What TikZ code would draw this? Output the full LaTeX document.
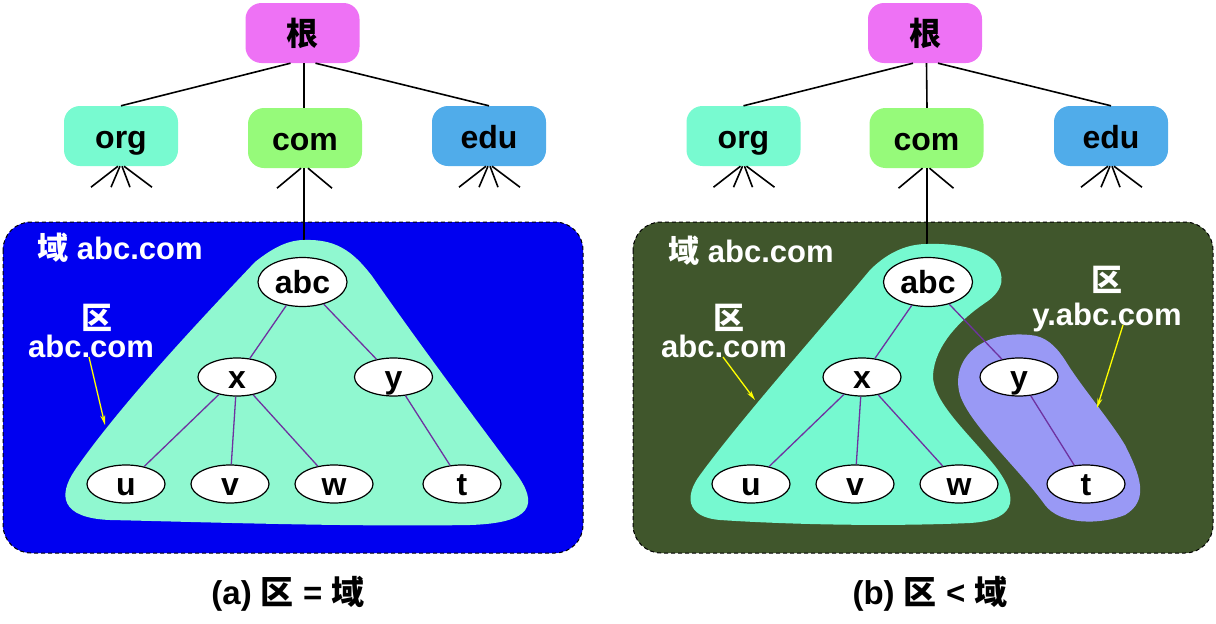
\documentclass[tikz,border=0pt]{standalone}
\usepackage{fontspec}
\setmainfont{Liberation Sans}
\newfontfamily\cjk{Noto Sans CJK SC}
\usetikzlibrary{shapes.geometric,arrows.meta}

\begin{document}
\begin{tikzpicture}[x=1pt,y=1pt,yscale=-1,xscale=1,
  tld/.style={rounded corners=16pt,minimum width=114pt,minimum height=60pt,inner sep=0pt,text height=24pt,text depth=0pt,font=\fontsize{32}{32}\selectfont\bfseries},
  host/.style={ellipse,draw=black,line width=1.2pt,fill=white,minimum width=78pt,minimum height=38pt,inner sep=0pt,text height=22pt,text depth=0pt,font=\fontsize{32}{32}\selectfont\bfseries},
  domainbox/.style={draw=black,line width=1pt,dash pattern=on 4pt off 3pt,rounded corners=28pt},
  link/.style={line width=1.6pt},
  treeedge/.style={draw={rgb,255:red,110;green,50;blue,160},line width=1.3pt},
  zonearrow/.style={draw={rgb,255:red,255;green,255;blue,0},line width=1.3pt,-{Stealth[length=10pt,width=5pt]}},
  whitelabel/.style={text=white,inner sep=0pt,font=\fontsize{31}{31}\selectfont\bfseries},
  caption/.style={inner sep=0pt,font=\fontsize{33}{33}\selectfont\bfseries}]
\useasboundingbox (0,0) rectangle (1216,624);

%domain boxes
\draw [domainbox,fill={rgb,255:red,0;green,0;blue,240}] (3,222) rectangle (583,553);
\draw [domainbox,fill={rgb,255:red,64;green,86;blue,44}] (633,222) rectangle (1213,553);

%top of the hierarchy, panel (a)
\node [tld,fill={rgb,255:red,238;green,114;blue,245}] (rootA) at (302.5,33) {{\cjk 根}};
\node [tld,fill={rgb,255:red,120;green,250;blue,208}] (orgA) at (121,136) {org};
\node [tld,fill={rgb,255:red,150;green,250;blue,122}] (comA) at (305,138) {com};
\node [tld,fill={rgb,255:red,80;green,172;blue,234}] (eduA) at (489,136) {edu};
\draw [link] ([xshift=-12pt]rootA.south) -- (orgA.north);
\draw [link] ([xshift=1.5pt]rootA.south) -- ([xshift=-1pt]comA.north);
\draw [link] ([xshift=13pt]rootA.south) -- (eduA.north);
\draw [link] ([xshift=-3pt]orgA.south) -- ++(-27,21);
\draw [link] ([xshift=-1pt]orgA.south) -- ++(-9,21);
\draw [link] ([xshift=1pt]orgA.south) -- ++(8,21);
\draw [link] ([xshift=3pt]orgA.south) -- ++(28,21);
\draw [link] ([xshift=-4pt]comA.south) -- ++(-24,20);
\draw [link] ([xshift=3pt]comA.south) -- ++(24,20);
\draw [link] ([xshift=-3pt]eduA.south) -- ++(-27,21);
\draw [link] ([xshift=-1pt]eduA.south) -- ++(-9,21);
\draw [link] ([xshift=1pt]eduA.south) -- ++(8,21);
\draw [link] ([xshift=3pt]eduA.south) -- ++(28,21);

%top of the hierarchy, panel (b)
\node [tld,fill={rgb,255:red,238;green,114;blue,245}] (rootB) at (925,33) {{\cjk 根}};
\node [tld,fill={rgb,255:red,120;green,250;blue,208}] (orgB) at (743.5,136) {org};
\node [tld,fill={rgb,255:red,150;green,250;blue,122}] (comB) at (926.5,138) {com};
\node [tld,fill={rgb,255:red,80;green,172;blue,234}] (eduB) at (1111,136) {edu};
\draw [link] ([xshift=-12pt]rootB.south) -- (orgB.north);
\draw [link] ([xshift=1.5pt]rootB.south) -- ([xshift=0.5pt]comB.north);
\draw [link] ([xshift=13pt]rootB.south) -- (eduB.north);
\draw [link] ([xshift=-3pt]orgB.south) -- ++(-27,21);
\draw [link] ([xshift=-1pt]orgB.south) -- ++(-9,21);
\draw [link] ([xshift=1pt]orgB.south) -- ++(8,21);
\draw [link] ([xshift=3pt]orgB.south) -- ++(28,21);
\draw [link] ([xshift=-4pt]comB.south) -- ++(-24,20);
\draw [link] ([xshift=3pt]comB.south) -- ++(24,20);
\draw [link] ([xshift=-3pt]eduB.south) -- ++(-27,21);
\draw [link] ([xshift=-1pt]eduB.south) -- ++(-9,21);
\draw [link] ([xshift=1pt]eduB.south) -- ++(8,21);
\draw [link] ([xshift=3pt]eduB.south) -- ++(28,21);

%zones
\coordinate (zoneAtop) at (304,240);
\coordinate (zoneBtop) at (927,244);
\draw [link] ([xshift=-1pt]comA.south) -- (zoneAtop);
\draw [link] ([xshift=0.5pt]comB.south) -- (zoneBtop);

\fill [fill={rgb,255:red,144;green,248;blue,208}] (zoneAtop) .. controls (335,239) and (352,250) .. (372,276)
  .. controls (420,345) and (480,425) .. (515,472) .. controls (540,505) and (532,523) .. (470,525)
  .. controls (350,527) and (200,522) .. (110,520) .. controls (60,518) and (58,495) .. (75,470)
  .. controls (120,405) and (200,320) .. (255,262) .. controls (275,246) and (290,240) .. (zoneAtop) -- cycle;

\fill [fill={rgb,255:red,118;green,249;blue,208}] (zoneBtop) .. controls (960,243) and (985,250) .. (995,262)
  .. controls (1005,275) and (1005,290) .. (985,303) .. controls (960,320) and (935,345) .. (933,375)
  .. controls (932,400) and (965,430) .. (990,460) .. controls (1020,495) and (1020,520) .. (970,523)
  .. controls (880,527) and (780,524) .. (720,520) .. controls (685,517) and (685,495) .. (700,475)
  .. controls (740,420) and (820,330) .. (870,270) .. controls (890,250) and (910,244) .. (zoneBtop) -- cycle;

\fill [fill={rgb,255:red,153;green,153;blue,245}] (1030,335) .. controls (980,330) and (950,360) .. (960,395)
  .. controls (970,425) and (1020,470) .. (1045,505) .. controls (1060,525) and (1100,525) .. (1125,515)
  .. controls (1150,500) and (1140,475) .. (1125,445) .. controls (1110,420) and (1080,385) .. (1065,360)
  .. controls (1055,345) and (1045,336) .. (1030,335) -- cycle;

%hosts, panel (a)
\node [host,minimum width=89pt,minimum height=49pt] (abcA) at (302.5,282) {abc};
\node [host] (xA) at (237,377) {x};
\node [host] (yA) at (393.5,377) {y};
\node [host] (uA) at (126,484) {u};
\node [host] (vA) at (230,484) {v};
\node [host] (wA) at (334,484) {w};
\node [host] (tA) at (462,484) {t};
\draw [treeedge] (abcA) -- (xA);
\draw [treeedge] (abcA) -- (yA);
\draw [treeedge] (xA) -- (uA);
\draw [treeedge] (xA) -- (vA);
\draw [treeedge] (xA) -- (wA);
\draw [treeedge] (yA) -- (tA);

%hosts, panel (b)
\node [host,minimum width=89pt,minimum height=49pt] (abcB) at (928,282) {abc};
\node [host] (xB) at (862,377) {x};
\node [host] (yB) at (1019,377) {y};
\node [host] (uB) at (751,484) {u};
\node [host] (vB) at (855,484) {v};
\node [host] (wB) at (959,484) {w};
\node [host] (tB) at (1086,484) {t};
\draw [treeedge] (abcB) -- (xB);
\draw [treeedge] (abcB) -- (yB);
\draw [treeedge] (xB) -- (uB);
\draw [treeedge] (xB) -- (vB);
\draw [treeedge] (xB) -- (wB);
\draw [treeedge] (yB) -- (tB);

%labels
\node [whitelabel,anchor=base] (domA) at (120,259) {{\cjk 域} abc.com};
\node [whitelabel,anchor=base] (domB) at (751,262) {{\cjk 域} abc.com};
\node [whitelabel] (labA1) at (97,318) {{\cjk 区}};
\node [whitelabel,anchor=base] (labA2) at (91,357) {abc.com};
\node [whitelabel] (labB1) at (729,318) {{\cjk 区}};
\node [whitelabel,anchor=base] (labB2) at (724,357) {abc.com};
\node [whitelabel] (labC1) at (1107,280) {{\cjk 区}};
\node [whitelabel,anchor=base] (labC2) at (1107,325) {y.abc.com};

\coordinate (tipA) at (105,425);
\coordinate (tipB) at (755,400);
\coordinate (tipC) at (1097,408);
\draw [zonearrow] ([xshift=-2pt]labA2.base) -- (tipA);
\draw [zonearrow] ([xshift=-1pt]labB2.base) -- (tipB);
\draw [zonearrow] ([xshift=16pt]labC2.base) -- (tipC);

%captions
\node [caption,anchor=base] (capA) at (288,604) {(a) {\cjk 区} = {\cjk 域}};
\node [caption,anchor=base] (capB) at (930,604) {(b) {\cjk 区} < {\cjk 域}};

\end{tikzpicture}
\end{document}
